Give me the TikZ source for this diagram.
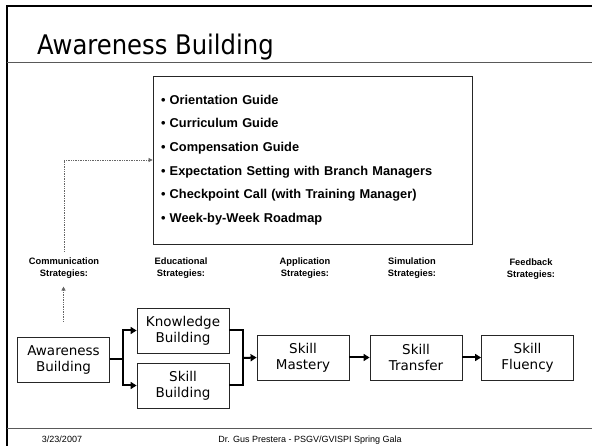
\documentclass[tikz,border=0pt]{standalone}
\usepackage{fontspec}
\setmainfont{Liberation Sans}
\newfontfamily\titlefont{DejaVu Sans Condensed}
\newfontfamily\boxfont{DejaVu Sans}
\usetikzlibrary{arrows.meta, positioning}

\begin{document}
\begin{tikzpicture}[x=1pt, y=-1pt,
    stage/.style={rectangle, draw=black!85, line width=0.8pt, minimum width=92pt, minimum height=45pt,
                  inner sep=0pt, align=center, font=\boxfont\fontsize{13.5}{16}\selectfont},
    strategy/.style={align=center, inner sep=0pt, font=\bfseries\fontsize{9.3}{12}\selectfont},
    link/.style={line width=2pt, black},
    arrow/.style={link, -{Triangle[length=6pt, width=7pt]}},
    hint/.style={densely dotted, line width=0.7pt, gray!80!black, -{Triangle[length=4pt, width=4pt]}}]
    \useasboundingbox (0,0) rectangle (592,446);

    % Frame, title and footer
    \draw[line width=2.5pt] (7,446) -- (7,6) -- (592,6);
    \draw[line width=1pt, gray!70!black] (7,63) -- (592,63);
    \draw[line width=1pt, gray!70!black] (7,428) -- (592,428);
    \node[anchor=base west, inner sep=0pt, font=\titlefont\fontsize{27}{30}\selectfont] (title) at (37,55) {Awareness Building};
    \node[anchor=base, font=\fontsize{9}{10}\selectfont] (date) at (62,442) {3/23/2007};
    \node[anchor=base, font=\fontsize{9}{10}\selectfont] (footer) at (310,442) {Dr. Gus Prestera - PSGV/GVISPI Spring Gala};

    % Nodes
    \node[draw=black!85, line width=0.8pt, minimum height=168pt, text width=303pt, inner xsep=8pt,
          align=left, font=\bfseries\fontsize{12.8}{23.6}\selectfont] (guides) at (312.5,160)
        {• Orientation Guide\\ • Curriculum Guide\\ • Compensation Guide\\
         • Expectation Setting with Branch Managers\\ • Checkpoint Call (with Training Manager)\\
         • Week-by-Week Roadmap};

    \node[strategy] (communication) at (64,268) {Communication\\Strategies:};
    \node[strategy] (educational) at (181,268) {Educational\\Strategies:};
    \node[strategy] (application) at (305,268) {Application\\Strategies:};
    \node[strategy] (simulation) at (412,268) {Simulation\\Strategies:};
    \node[strategy] (feedback) at (531,269) {Feedback\\Strategies:};

    \node[stage] (awareness) at (63.5,359.5) {Awareness\\Building};
    \node[stage] (knowledge) at (183,330.5) {Knowledge\\Building};
    \node[stage] (skillbuild) at (183,385.5) {Skill\\Building};
    \node[stage] (mastery) at (303,357.5) {Skill\\Mastery};
    \node[stage] (transfer) at (416,357.5) {Skill\\Transfer};
    \node[stage] (fluency) at (527.5,357.5) {Skill\\Fluency};
    \coordinate (split) at (123,359.5);
    \coordinate (merge) at (243,358);

    % Arrows
    \draw[hint] (communication.north) ++(0,-6) |- (guides.west);
    \draw[hint, shorten <=15pt, shorten >=8pt] (awareness.north) -- (awareness.north |- communication.south);
    \draw[link] (awareness.east) -- (split);
    \draw[arrow] (split) |- (knowledge.west);
    \draw[arrow] (split) |- (skillbuild.west);
    \draw[link] (knowledge.east) -| (merge);
    \draw[link] (skillbuild.east) -| (merge);
    \draw[arrow] (merge) -- (mastery.west);
    \draw[arrow] (mastery) -- (transfer);
    \draw[arrow] (transfer) -- (fluency);

\end{tikzpicture}
\end{document}
